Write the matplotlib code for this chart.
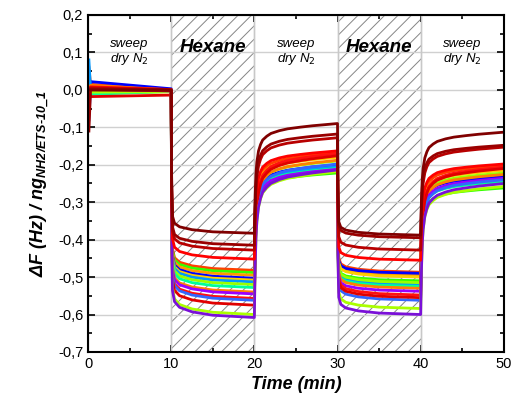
import numpy as np
import matplotlib
matplotlib.use('Agg')
import matplotlib.pyplot as plt
from matplotlib.ticker import MultipleLocator, FuncFormatter

# drawn at 80 dpi so the hatch spacing matches; k rescales sizes given in points
DPI = 80
k = 100 / DPI

plt.rcParams['font.family'] = ['Liberation Sans', 'DejaVu Sans']
plt.rcParams['mathtext.fontset'] = 'custom'
plt.rcParams['mathtext.rm'] = 'Liberation Sans:bold:italic'
plt.rcParams['mathtext.it'] = 'Liberation Sans:bold:italic'
plt.rcParams['mathtext.bf'] = 'Liberation Sans:bold:italic'
plt.rcParams['hatch.color'] = '#858585'
plt.rcParams['hatch.linewidth'] = 0.7 * k

# one entry per curve
curve_colors = ['#800000', '#9a0000', '#b80000', '#ff0000', '#ff4000', '#33ff00',
                '#ff9900', '#0000ff', '#ffcc00', '#0099ff', '#99ff00', '#00ff99',
                '#ff8000', '#9900ff', '#ff1010', '#3366ff', '#e00000', '#aaff00',
                '#7a10d8']
dry1_t0 = [0.0, -0.11, 0.0, 0.0, 0.06, 0.0, 0.0, 0.0, 0.0, 0.08, 0.0, 0.0,
           0.0, 0.0, 0.0, -0.08, 0.0, 0.0, 0.0]
dry1_start = [0.0, 0.0, 0.005, 0.008, 0.015, -0.008, 0.01, 0.022, -0.01, 0.002, 0.004, -0.012,
              0.012, 0.006, -0.004, 0.003, -0.018, -0.006, 0.002]
dry1_end = [0.0, -0.002, 0.0, 0.001, 0.0, -0.004, 0.0, 0.003, -0.005, -0.002, -0.003, -0.004,
            0.0, -0.002, -0.004, -0.001, -0.014, -0.005, -0.003]
hex1_level = [-0.383, -0.415, -0.428, -0.452, -0.482, -0.488, -0.495, -0.503, -0.508, -0.513,
              -0.520, -0.528, -0.540, -0.545, -0.557, -0.562, -0.575, -0.600, -0.608]
dry2_level = [-0.090, -0.118, -0.128, -0.163, -0.168, -0.222, -0.175, -0.200, -0.180, -0.205,
              -0.190, -0.210, -0.188, -0.212, -0.170, -0.198, -0.176, -0.218, -0.214]
hex2_level = [-0.388, -0.395, -0.428, -0.455, -0.487, -0.510, -0.495, -0.490, -0.500, -0.520,
              -0.515, -0.525, -0.530, -0.538, -0.548, -0.562, -0.555, -0.584, -0.600]
dry3_level = [-0.113, -0.148, -0.153, -0.198, -0.202, -0.262, -0.212, -0.232, -0.215, -0.240,
              -0.222, -0.245, -0.226, -0.236, -0.206, -0.240, -0.210, -0.258, -0.250]

# shared step shapes (fraction of the step done, minutes after switching)
hex_dt = [0, 0.05, 0.15, 0.4, 1, 2.5, 5, 9.95]
hex_frac = [0, 0.6, 0.88, 0.93, 0.955, 0.975, 0.99, 1.0]
dry_dt = [0, 0.05, 0.1, 0.2, 0.3, 0.5, 0.75, 1, 1.5, 2, 3, 4, 5.5, 7, 8.5, 9.95]
dry_frac = [0, 0.2, 0.35, 0.55, 0.65, 0.75, 0.81, 0.85, 0.885, 0.91, 0.935,
            0.952, 0.967, 0.98, 0.99, 1.0]

phase_spans = [(10, 20), (30, 40)]


def buildCurve(i):
    """stitch one curve from its phase levels"""
    t = [0.1, 0.3, 9.95]
    y = [dry1_t0[i], dry1_start[i], dry1_end[i]]
    steps = [(10, hex_dt, hex_frac, hex1_level[i]),
             (20, dry_dt, dry_frac, dry2_level[i]),
             (30, hex_dt, hex_frac, hex2_level[i]),
             (40, dry_dt, dry_frac, dry3_level[i])]
    for t0, dts, fr, lvl in steps:
        prev = y[-1]
        for d, f in zip(dts, fr):
            t.append(t0 + d)
            y.append(prev + (lvl - prev) * f)
    t[-1] = 50
    return np.array(t), np.array(y)


fig = plt.figure(figsize=(512 / DPI, 405 / DPI), dpi=DPI)
ax = fig.add_axes([0.172, 0.131, 0.812, 0.832])

ax.grid(True, color='#d0d0d0', lw=1.0 * k)
ax.set_axisbelow(True)
for a, b in phase_spans:
    ax.axvspan(a, b, facecolor='white', edgecolor='#858585', hatch='//', lw=0, zorder=0.3)
    ax.axvline(a, color='#c8c8c8', lw=1.0 * k, zorder=1.1)
    ax.axvline(b, color='#c8c8c8', lw=1.0 * k, zorder=1.1)

# reds drawn last, as in the picture
order = list(range(4, len(curve_colors))) + [3, 2, 1, 0]
for i in order:
    t, y = buildCurve(i)
    ax.plot(t, y, color=curve_colors[i], lw=2.0 * k, zorder=2)

for xc in [5, 25, 45]:
    ax.text(xc, 0.10, 'sweep\ndry N$_2$', ha='center', va='center', style='italic',
            fontsize=9.5 * k, linespacing=1.1, zorder=3,
            math_fontfamily='dejavusans')
for xc in [15, 35]:
    ax.text(xc, 0.113, 'Hexane', ha='center', va='center', style='italic',
            fontweight='bold', fontsize=13.5 * k, zorder=3)

ax.set_xlim(0, 50)
ax.set_ylim(-0.7, 0.2)
ax.xaxis.set_major_locator(MultipleLocator(10))
ax.xaxis.set_minor_locator(MultipleLocator(5))
ax.yaxis.set_major_locator(MultipleLocator(0.1))
ax.yaxis.set_minor_locator(MultipleLocator(0.05))
ax.yaxis.set_major_formatter(FuncFormatter(lambda v, p: ('%.1f' % v).replace('.', ',').replace('-0,0', '0,0')))
ax.tick_params(which='both', direction='in', top=True, right=True,
               labelsize=10.5 * k, width=1.2 * k, pad=3.5 * k)
ax.tick_params(which='major', length=5 * k)
ax.tick_params(which='minor', length=3 * k)
for s in ax.spines.values():
    s.set_linewidth(1.5 * k)
    s.set_zorder(5)

ax.set_xlabel('Time (min)', fontsize=13 * k, fontweight='bold', style='italic', labelpad=4 * k)
ax.set_ylabel(r'$\Delta$F (Hz) / ng$_{NH2/ETS\text{-}10\_1}$', fontsize=13 * k,
              fontweight='bold', style='italic', labelpad=4 * k)

fig.savefig('out.png', dpi=DPI)
